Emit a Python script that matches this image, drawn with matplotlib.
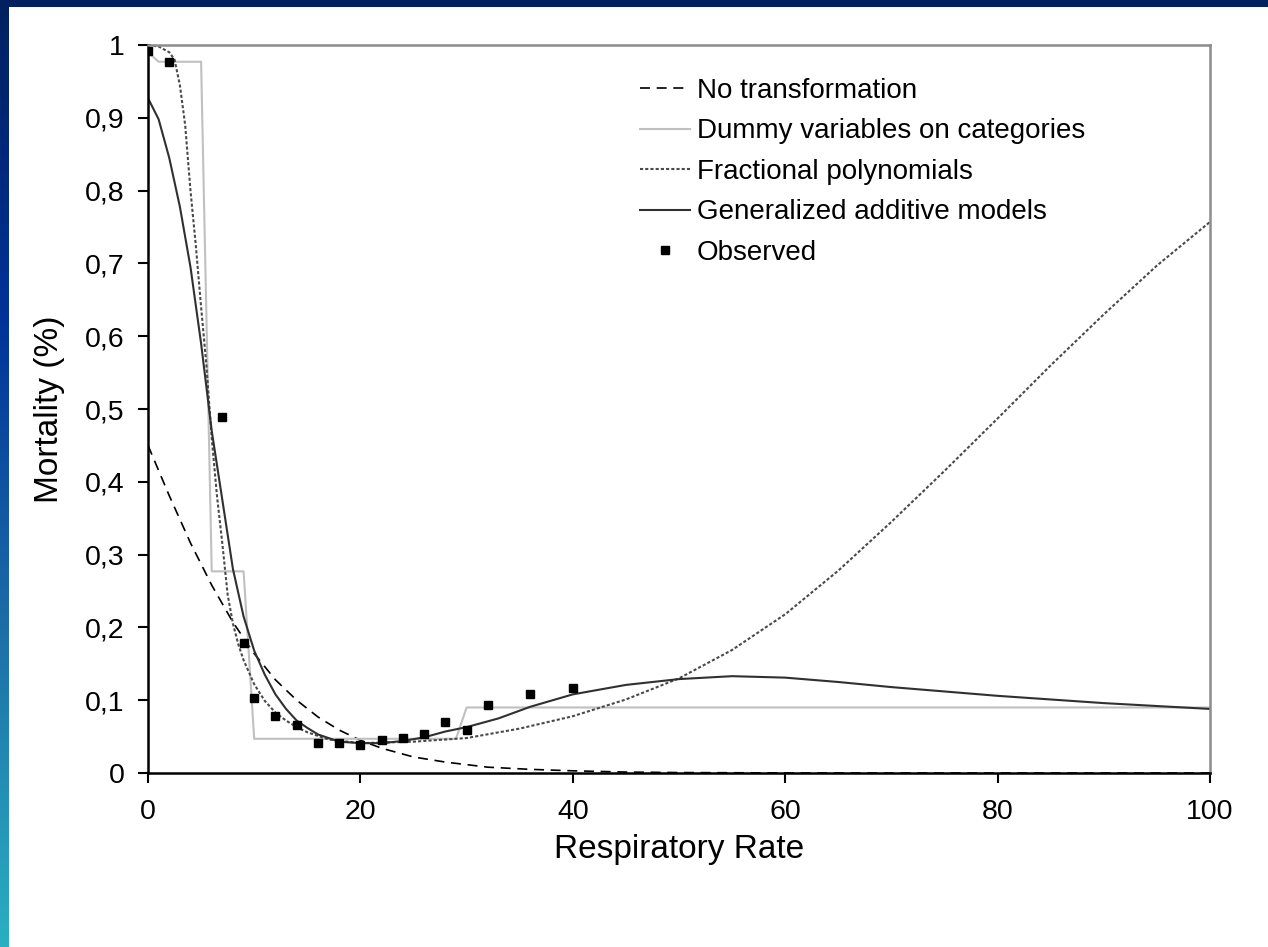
import numpy as np
import matplotlib
matplotlib.use('Agg')
import matplotlib.pyplot as plt
from matplotlib.colors import LinearSegmentedColormap
from matplotlib.patches import Rectangle

plt.rcParams['font.family'] = ['Liberation Sans', 'DejaVu Sans']

# Observed mortality
obs_x = [0, 2, 7, 9, 10, 12, 14, 16, 18, 20, 22, 24, 26, 28, 30, 32, 36, 40]
obs_y = [0.992, 0.977, 0.489, 0.178, 0.103, 0.078, 0.066, 0.041, 0.041, 0.038,
         0.046, 0.048, 0.054, 0.070, 0.059, 0.094, 0.108, 0.117]

# No transformation (plain logistic)
nt_x = [0, 2, 4, 6, 8, 10, 12, 14, 16, 18, 20, 22, 25, 28, 32, 36, 40, 45, 50, 60, 70, 80, 90, 100]
nt_y = [0.450, 0.381, 0.316, 0.258, 0.207, 0.164, 0.128, 0.100, 0.077, 0.059, 0.045,
        0.034, 0.022, 0.015, 0.008, 0.005, 0.003, 0.0013, 0.0006, 0.0001, 0.0, 0.0, 0.0, 0.0]

# Dummy variables on categories
dv_x = [0, 1, 5, 6, 9, 10, 29, 30, 100]
dv_y = [0.99, 0.977, 0.977, 0.277, 0.277, 0.047, 0.047, 0.090, 0.090]

# Fractional polynomials
fp_x = [0, 1, 2, 2.5, 3, 3.5, 4, 4.5, 5, 5.5, 6, 6.5, 7, 7.5, 8, 8.5, 9, 10, 11, 12, 13,
        14, 15, 17, 20, 25, 30, 35, 40, 45, 50, 55, 60, 65, 70, 75, 80, 85, 90, 95, 100]
fp_y = [1.0, 0.998, 0.99, 0.98, 0.945, 0.89, 0.80, 0.725, 0.64, 0.56, 0.46, 0.38, 0.315,
        0.245, 0.205, 0.177, 0.155, 0.122, 0.099, 0.083, 0.072, 0.063, 0.056, 0.046, 0.041,
        0.043, 0.048, 0.061, 0.078, 0.101, 0.130, 0.169, 0.218, 0.278, 0.345, 0.415, 0.487,
        0.56, 0.63, 0.697, 0.757]

# Generalized additive models
gam_x = [0, 1, 2, 3, 4, 5, 6, 7, 8, 9, 10, 11, 12, 13, 14, 15, 16, 18, 20, 22, 24, 26, 28,
         30, 33, 36, 40, 45, 50, 55, 60, 65, 70, 75, 80, 85, 90, 95, 100]
gam_y = [0.927, 0.898, 0.845, 0.778, 0.695, 0.59, 0.47, 0.375, 0.28, 0.215, 0.168, 0.135,
         0.108, 0.088, 0.072, 0.062, 0.053, 0.043, 0.041, 0.041, 0.044, 0.049, 0.057, 0.063,
         0.075, 0.091, 0.108, 0.121, 0.129, 0.133, 0.131, 0.125, 0.118, 0.112, 0.106, 0.101,
         0.096, 0.092, 0.088]

fig = plt.figure(figsize=(12.68, 9.47), dpi=100)
fig.patch.set_facecolor('white')

# slide decoration: top bar and left gradient bar
fig.patches.append(Rectangle((0, 1 - 7 / 947), 1, 7 / 947, transform=fig.transFigure,
                             facecolor='#002060', edgecolor='none', zorder=0))
side = fig.add_axes([0, 0, 9 / 1268, 1 - 7 / 947])
grad = LinearSegmentedColormap.from_list('side', ['#002060', '#003399', '#1d6fa8', '#2aafc2'])
side.imshow(np.linspace(0, 1, 256).reshape(-1, 1), aspect='auto', cmap=grad)
side.axis('off')

ax = fig.add_axes([148 / 1268, 1 - 773 / 947, (1210 - 148) / 1268, (773 - 45) / 947])

ax.plot(nt_x, nt_y, color='black', lw=1.2, ls=(0, (6, 4)), label='No transformation')
ax.plot(dv_x, dv_y, color='#c0c0c0', lw=1.5, label='Dummy variables on categories')
ax.plot(fp_x, fp_y, color='#4a4a4a', lw=1.5, ls=(0, (1.5, 1)), label='Fractional polynomials',
        clip_on=False)
ax.plot(gam_x, gam_y, color='#303030', lw=1.5, label='Generalized additive models')
ax.plot(obs_x, obs_y, ls='none', marker='s', ms=6, color='black', label='Observed')

ax.set_xlim(0, 100)
ax.set_ylim(0, 1)
ax.set_xticks(range(0, 101, 20))
yt = np.arange(0, 1.01, 0.1)
ax.set_yticks(yt)
ax.set_yticklabels(['0'] + [f'0,{i}' for i in range(1, 10)] + ['1'])

for s in ['left', 'bottom']:
    ax.spines[s].set_color('black')
    ax.spines[s].set_linewidth(1.8)
for s in ['top', 'right']:
    ax.spines[s].set_color('#8c8c8c')
    ax.spines[s].set_linewidth(1.8)

ax.tick_params(axis='both', direction='out', length=7, width=1.5, labelsize=20.5, color='black')
ax.tick_params(axis='x', pad=12)
ax.tick_params(axis='y', pad=10)

ax.set_xlabel('Respiratory Rate', fontsize=24, labelpad=6)
ax.set_ylabel('Mortality (%)', fontsize=24, labelpad=14)

ax.legend(loc='upper left', bbox_to_anchor=(640 / 1268, 1 - 78 / 947),
          bbox_transform=fig.transFigure, frameon=False, fontsize=20,
          handlelength=1.8, handletextpad=0.25, labelspacing=0.52,
          borderpad=0, borderaxespad=0)

fig.savefig('out.png', dpi=100, facecolor='white')
